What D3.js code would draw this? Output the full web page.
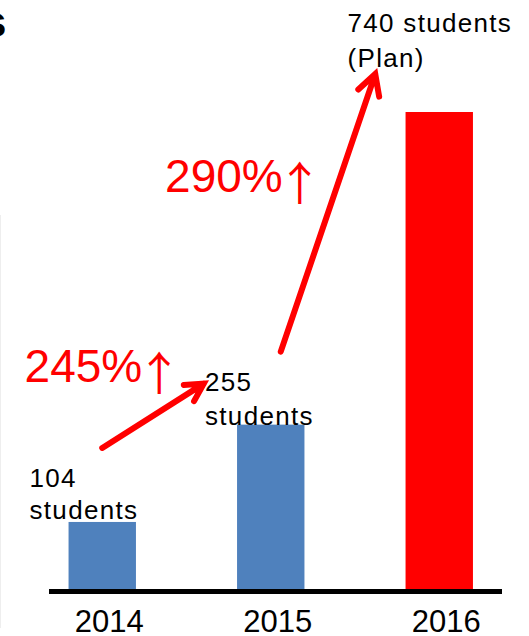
<!DOCTYPE html>
<html>
<head>
<meta charset="utf-8">
<script src="https://cdn.jsdelivr.net/npm/d3@7"></script>
<style>
  html, body { margin: 0; padding: 0; background: #fff; }
  svg { display: block; font-family: "Liberation Sans", Arial, sans-serif; }
</style>
</head>
<body>
<svg id="chart" width="529" height="636"></svg>
<script>
// ---- data ----
const years = ["2014", "2015", "2016"];
const students = [104, 255, 740];
const barColors = ["#4F81BD", "#4F81BD", "#FF0000"];
const valueLabels = [["104", "students"], ["255", "students"], ["740 students", "(Plan)"]];
const growthLabels = ["245%", "290%"];

const svg = d3.select("#chart");

const x = d3.scaleBand().domain(years).range([18, 523.5]).paddingInner(0.6).paddingOuter(0.3);
const y = d3.scaleLinear().domain([0, 740]).range([589, 112]);
const xc = d => x(d) + x.bandwidth() / 2;

// faint frame edge on the left
svg.append("line").attr("x1", 0.5).attr("x2", 0.5).attr("y1", 215).attr("y2", 628)
  .attr("stroke", "#eeeeee").attr("stroke-width", 1);

// cut-off title
svg.append("text").attr("x", 6.5).attr("y", 37).attr("text-anchor", "end")
  .attr("font-size", 44).attr("font-weight", "bold").attr("fill", "#000")
  .text("Students");

// bars
const data = years.map((yr, i) => ({ year: yr, value: students[i], color: barColors[i], label: valueLabels[i] }));
svg.append("g").selectAll("rect").data(data).join("rect")
  .attr("x", d => x(d.year))
  .attr("y", d => y(d.value))
  .attr("width", x.bandwidth())
  .attr("height", d => y(0) - y(d.value))
  .attr("fill", d => d.color);

// axis
const axis = d3.axisBottom(x).tickSize(0).tickPadding(0);
const gx = svg.append("g").attr("transform", `translate(0,${y(0)})`).call(axis);
gx.select(".domain").remove();
gx.selectAll("text").attr("y", 42.5).attr("dy", 0).attr("dx", 7)
  .attr("font-size", 31).attr("fill", "#000").attr("font-family", "Liberation Sans, Arial, sans-serif");
svg.append("line").attr("x1", 49).attr("x2", 502).attr("y1", y(0) + 2.5).attr("y2", y(0) + 2.5)
  .attr("stroke", "#000").attr("stroke-width", 5);

// value labels
const labelPos = [
  { dx: -39, dy: [-35, -3] },
  { dx: -32, dy: [-34, 0.5] },
  { dx: -58, dy: [-80.5, -45.5] }
];
data.forEach((d, i) => {
  const t = svg.append("text").attr("font-size", 26).attr("fill", "#000").attr("letter-spacing", 1.3);
  d.label.forEach((line, j) => {
    t.append("tspan").attr("x", x(d.year) + labelPos[i].dx).attr("y", y(d.value) + labelPos[i].dy[j]).text(line);
  });
});

// growth arrows
function arrow(p0, p1, width, armLen) {
  const ang = Math.atan2(p1[1] - p0[1], p1[0] - p0[0]);
  const a1 = ang + Math.PI - 0.5, a2 = ang + Math.PI + 0.5;
  const path = d3.path();
  path.moveTo(p0[0], p0[1]); path.lineTo(p1[0], p1[1]);
  path.moveTo(p1[0] + armLen * Math.cos(a1), p1[1] + armLen * Math.sin(a1));
  path.lineTo(p1[0], p1[1]);
  path.lineTo(p1[0] + armLen * Math.cos(a2), p1[1] + armLen * Math.sin(a2));
  svg.append("path").attr("d", path.toString()).attr("fill", "none")
    .attr("stroke", "#FF0000").attr("stroke-width", width)
    .attr("stroke-linecap", "round").attr("stroke-linejoin", "miter");
}
arrow([xc("2014"), y(104) - 74], [xc("2015") - 67, y(255) - 41], 6, 20);
arrow([xc("2015") + 10, y(255) - 73], [xc("2016") - 64, y(740) - 38], 6, 23);

// growth labels
const growthPos = [
  { x: x("2014") - 44, y: y(255) - 43 },
  { x: x("2015") - 72, y: y(740) + 80 }
];
growthLabels.forEach((g, i) => {
  const t = svg.append("text").attr("x", growthPos[i].x).attr("y", growthPos[i].y)
    .attr("fill", "#FF0000").attr("font-size", 46);
  t.append("tspan").text(g);
  t.append("tspan").attr("font-family", "Noto Sans CJK JP").attr("font-size", 46)
    .attr("dx", -6).attr("dy", 8).text("↑");
});
</script>
</body>
</html>
